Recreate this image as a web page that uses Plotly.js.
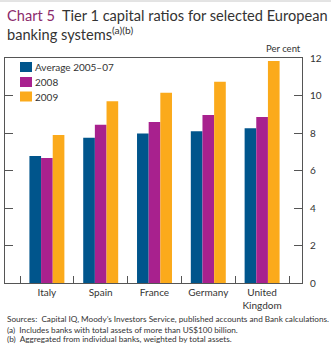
<!DOCTYPE html>
<html><head><meta charset="utf-8">
<script src="https://cdn.plot.ly/plotly-3.0.1.min.js"></script>
<style>html,body{margin:0;padding:0;background:#fff}#chart{width:331px;height:358px}</style>
</head><body><div id="chart"></div>
<script>
const categories = ['Italy', 'Spain', 'France', 'Germany', 'United<br>Kingdom'];
const seriesNames = ['Average 2005–07', '2008', '2009'];
const avg0507 = [6.77, 7.75, 7.98, 8.10, 8.25];
const y2008 = [6.67, 8.44, 8.59, 8.96, 8.85];
const y2009 = [7.90, 9.69, 10.15, 10.74, 11.84];
const yTicks = [0, 2, 4, 6, 8, 10, 12];
const colors = ['#00558C', '#A8218E', '#FBAA1B'];
const seriesValues = [avg0507, y2008, y2009];

const W = 331, H = 358, L = 5, R = 302, T = 58, B = 283;
const px = X => (X - L) / (R - L);
const py = Y => (B - Y) / (B - T);
const txt = '#333333';
const font = 'Lato, "Open Sans", sans-serif';

const traces = seriesValues.map((v, i) => ({
  type: 'bar', x: categories, y: v, name: seriesNames[i],
  marker: {color: colors[i], line: {width: 0}}, showlegend: false
}));

const shapes = [
  {type: 'line', xref: 'paper', yref: 'paper', x0: px(0), x1: px(331), y0: py(1), y1: py(1), line: {color: '#c8c8c8', width: 1}}
];
const annotations = [];
const legY = [67, 82, 96.5];
seriesNames.forEach((n, i) => {
  shapes.push({type: 'rect', xref: 'paper', yref: 'paper', x0: px(20), x1: px(32), y0: py(legY[i] - 5), y1: py(legY[i] + 5), fillcolor: colors[i], line: {width: 0}});
  annotations.push({xref: 'paper', yref: 'paper', x: px(33), y: py(legY[i]), xanchor: 'left', yanchor: 'middle', text: n, showarrow: false, font: {family: font, size: 10, color: txt}});
});
annotations.push(
  {xref: 'paper', yref: 'paper', x: px(5), y: py(16), xanchor: 'left', yanchor: 'middle', showarrow: false,
   text: '<span style="color:#8B2A6B">Chart 5</span>  Tier 1 capital ratios for selected European', font: {family: font, size: 14.6, color: txt}},
  {xref: 'paper', yref: 'paper', x: px(5), y: py(33.5), xanchor: 'left', yanchor: 'middle', showarrow: false,
   text: 'banking systems<sup>(a)(b)</sup>', font: {family: font, size: 14.6, color: txt}},
  {xref: 'paper', yref: 'paper', x: px(303), y: py(49), xanchor: 'right', yanchor: 'middle', showarrow: false,
   text: 'Per cent', font: {family: font, size: 9.5, color: txt}},
  {xref: 'paper', yref: 'paper', x: px(5), y: py(319), xanchor: 'left', yanchor: 'middle', showarrow: false,
   text: 'Sources:  Capital IQ, Moody’s Investors Service, published accounts and Bank calculations.', font: {family: font, size: 8.2, color: txt}},
  {xref: 'paper', yref: 'paper', x: px(5), y: py(329.5), xanchor: 'left', yanchor: 'middle', showarrow: false,
   text: '(a)  Includes banks with total assets of more than US$100 billion.', font: {family: font, size: 8.2, color: txt}},
  {xref: 'paper', yref: 'paper', x: px(5), y: py(339), xanchor: 'left', yanchor: 'middle', showarrow: false,
   text: '(b)  Aggregated from individual banks, weighted by total assets.', font: {family: font, size: 8.2, color: txt}}
);

const layout = {
  width: W, height: H,
  margin: {l: L, r: W - R, t: T, b: H - B, pad: 0},
  paper_bgcolor: '#fff', plot_bgcolor: '#fff',
  barmode: 'group', bargap: 0.35, bargroupgap: 0,
  showlegend: false,
  font: {family: font, color: txt, size: 10},
  xaxis: {
    range: [-0.5 - 15 / 53.8, 4.5 + 13 / 53.8], type: 'category',
    showline: true, linecolor: '#555', linewidth: 1, mirror: true,
    ticks: 'inside', tickson: 'boundaries', ticklen: 7, tickcolor: '#555',
    showgrid: false, zeroline: false, tickfont: {family: font, size: 10, color: txt}
  },
  yaxis: {
    range: [0, 12], side: 'right', tickvals: yTicks, ticktext: yTicks.map(String),
    showline: true, linecolor: '#555', linewidth: 1, mirror: 'ticks',
    ticks: 'inside', ticklen: 8, tickcolor: '#555', ticklabelstandoff: 5,
    showgrid: false, zeroline: false, tickfont: {family: font, size: 10, color: txt}
  },
  shapes: shapes, annotations: annotations
};
Plotly.newPlot('chart', traces, layout, {displayModeBar: false, staticPlot: true});
</script></body></html>
